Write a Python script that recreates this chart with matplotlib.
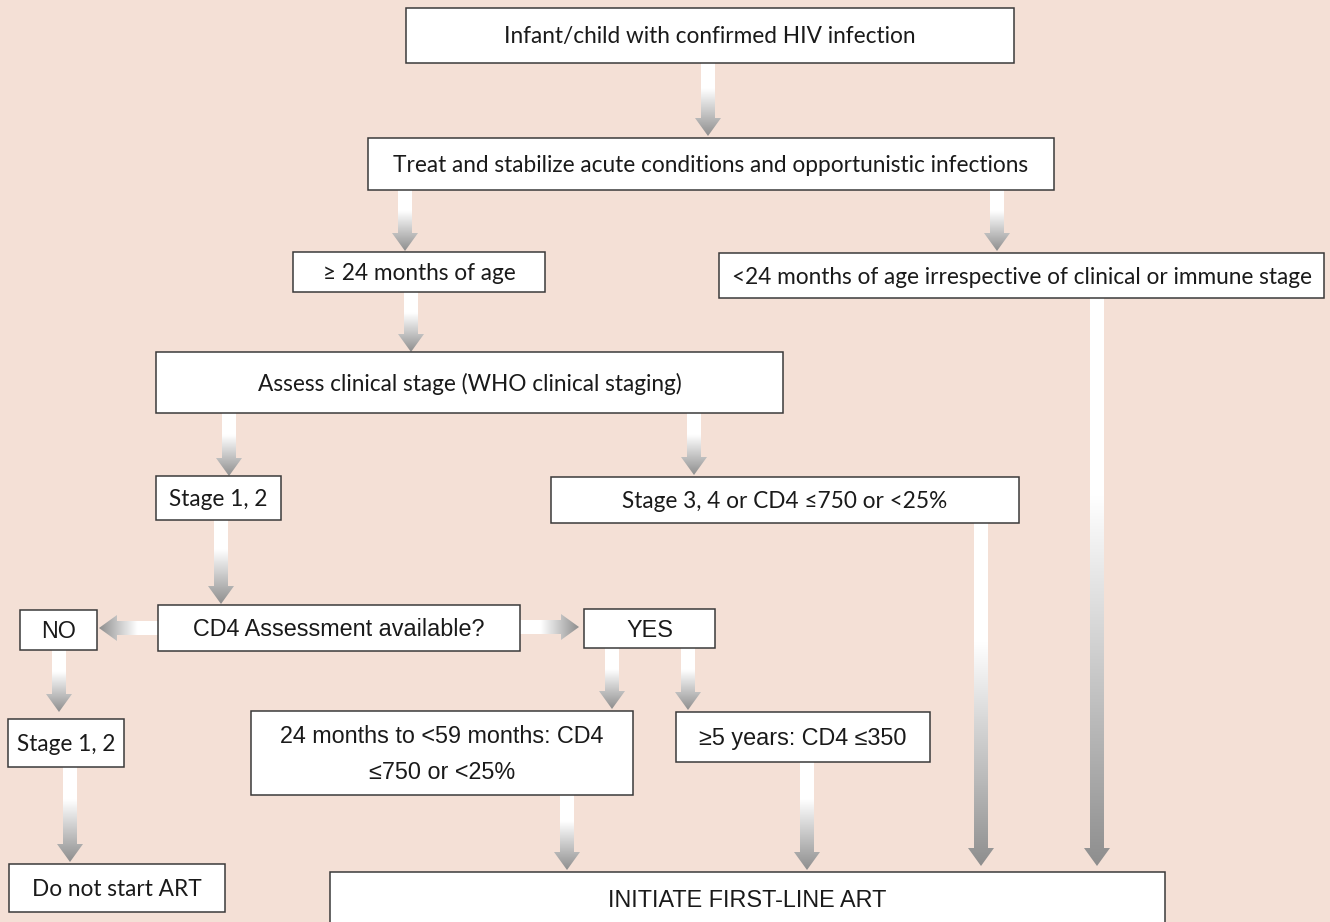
import matplotlib.pyplot as plt
import numpy as np
from matplotlib.patches import Rectangle, Polygon
from matplotlib.colors import LinearSegmentedColormap

# Tlo i kolory jak w oryginale
BG = '#f4e0d6'
EDGE = '#3a3a3a'

# Teksty pudelek
box_labels = [
    "Infant/child with confirmed HIV infection",
    "Treat and stabilize acute conditions and opportunistic infections",
    "\u2265 24 months of age",
    "<24 months of age irrespective of clinical or immune stage",
    "Assess clinical stage (WHO clinical staging)",
    "Stage 1, 2",
    "Stage 3, 4 or CD4 \u2264750 or <25%",
    "CD4 Assessment available?",
    "NO",
    "YES",
    "Stage 1, 2",
    "24 months to <59 months: CD4\n\u2264750 or <25%",
    "\u22655 years: CD4 \u2264350",
    "Do not start ART",
    "INITIATE FIRST-LINE ART",
]
# rodzina czcionki dla kazdego pudelka (humanist / grotesk)
box_font = ['h', 'h', 'h', 'h', 'h', 'h', 'h', 'g', 'g', 'g', 'h', 'g', 'g', 'h', 'g']

# geometria pudelek: x, y (gora), szerokosc, wysokosc w pikselach
box_x = [406, 368, 293, 719, 156, 156, 551, 158, 20, 584, 8, 251, 676, 9, 330]
box_y = [8, 138, 252, 253, 352, 476, 477, 605, 610, 609, 719, 711, 712, 864, 872]
box_w = [608, 686, 252, 605, 627, 125, 468, 362, 77, 131, 116, 382, 254, 216, 835]
box_h = [55, 52, 40, 45, 61, 44, 46, 46, 40, 39, 48, 84, 50, 48, 70]

# strzalki: (x0, y0) -> (x1, y1)
arrows = [
    (708, 63, 708, 136),
    (405, 190, 405, 251),
    (997, 190, 997, 251),
    (411, 292, 411, 352),
    (229, 413, 229, 476),
    (694, 413, 694, 475),
    (221, 520, 221, 604),
    (59, 650, 59, 712),
    (612, 648, 612, 709),
    (688, 648, 688, 710),
    (70, 767, 70, 862),
    (567, 795, 567, 870),
    (807, 762, 807, 870),
    (981, 523, 981, 866),
    (1097, 298, 1097, 866),
    (158, 628, 99, 628),
    (520, 627, 579, 627),
]

cmap = LinearSegmentedColormap.from_list(
    'arr', [(0, '#ffffff'), (0.35, '#ffffff'), (1, '#8e8e8e')])


def grad_arrow(ax, x0, y0, x1, y1, shaft=14, head_w=26, head_l=18):
    d = np.array([x1 - x0, y1 - y0], dtype=float)
    L = np.hypot(*d)
    u = d / L
    n = np.array([-u[1], u[0]])
    p0 = np.array([x0, y0], dtype=float)
    base = p0 + u * (L - head_l)
    tip = p0 + u * L
    pts = [p0 + n * shaft / 2, base + n * shaft / 2, base + n * head_w / 2, tip,
           base - n * head_w / 2, base - n * shaft / 2, p0 - n * shaft / 2]
    poly = Polygon(pts, closed=True, facecolor='none', edgecolor='none')
    ax.add_patch(poly)
    grad = np.linspace(0, 1, 256)
    hw = head_w / 2 + 2
    if x0 == x1:
        img = grad.reshape(-1, 1)
        ext = (x0 - hw, x0 + hw, y0, y1)
    else:
        img = grad.reshape(1, -1)
        ext = (x0, x1, y0 - hw, y0 + hw)
    im = ax.imshow(img, cmap=cmap, origin='lower', extent=ext,
                   aspect='auto', interpolation='bilinear', zorder=1)
    im.set_clip_path(poly)


fig = plt.figure(figsize=(13.3, 9.22), dpi=100, facecolor=BG)
ax = fig.add_axes([0, 0, 1, 1])
ax.set_facecolor(BG)
ax.set_xlim(0, 1330)
ax.set_ylim(922, 0)
ax.axis('off')

fonts = {'h': dict(family=['Lato', 'DejaVu Sans'], fontsize=16.3),
         'g': dict(family=['Liberation Sans', 'DejaVu Sans'], fontsize=16.8)}

for lab, f, x, y, w, h in zip(box_labels, box_font, box_x, box_y, box_w, box_h):
    ax.add_patch(Rectangle((x, y), w, h, facecolor='white', edgecolor=EDGE,
                           linewidth=1.1, zorder=2))
    cy = y + h / 2 + 1.5
    if lab.startswith('INITIATE'):
        cy = 900
    ax.text(x + w / 2, cy, lab, ha='center', va='center', color='#1a1a1a',
            linespacing=1.75, zorder=3, **fonts[f])

for a in arrows:
    grad_arrow(ax, *a)

fig.savefig('out.png', dpi=100, facecolor=BG)
plt.close(fig)
